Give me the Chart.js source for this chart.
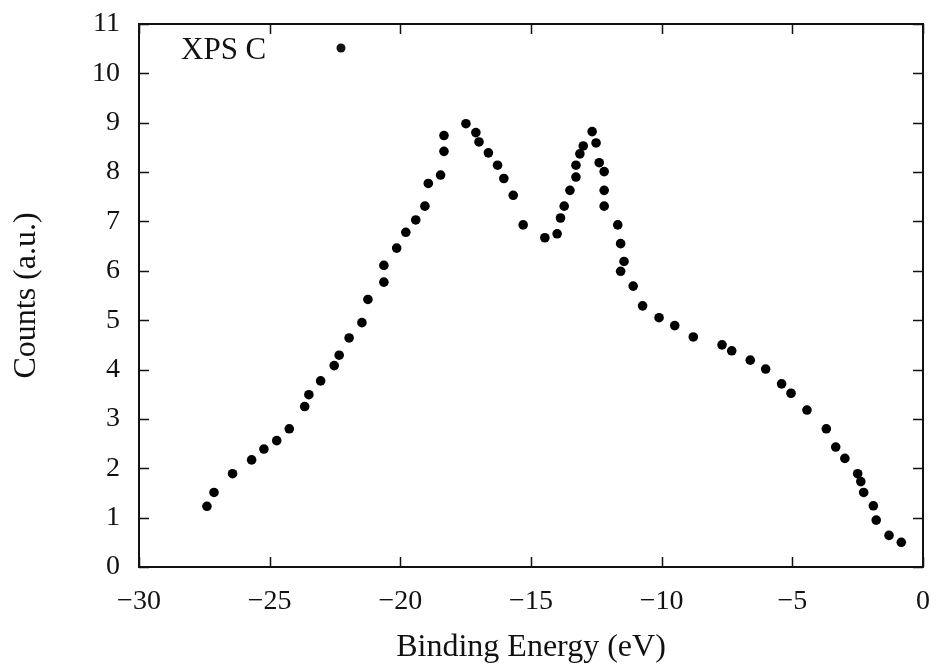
<!DOCTYPE html>
<html>
<head>
<meta charset="utf-8">
<script src="https://cdn.jsdelivr.net/npm/chart.js@4/dist/chart.umd.min.js"></script>
<style>
    html, body { margin: 0; padding: 0; background: #fff; }
    #wrap { width: 941px; height: 669px; }
</style>
</head>
<body>
<div id="wrap"><canvas id="xpsChart"></canvas></div>
<script>
// XPS C spectrum
const energy = [
    -27.40, -27.13, -26.42, -25.69, -25.22, -24.73, -24.25, -23.66, -23.50, -23.05,
    -22.53, -22.34, -21.96, -21.47, -21.24, -20.63, -20.63, -20.14, -19.79, -19.41,
    -19.06, -18.93, -18.46, -18.33, -18.33, -17.49, -17.11, -16.99, -16.63, -16.28,
    -16.04, -15.68, -15.30, -14.47, -14.00, -13.87, -13.73, -13.51, -13.28, -13.28,
    -13.13, -13.00, -12.66, -12.51, -12.39, -12.20, -12.20, -12.20, -11.68, -11.57,
    -11.44, -11.57, -11.09, -10.73, -10.10, -9.50, -8.79, -7.69, -7.32, -6.61,
    -6.02, -5.41, -5.05, -4.44, -3.70, -3.34, -2.99, -2.50, -2.38, -2.27,
    -1.90, -1.79, -1.30, -0.83
];
const counts = [
    1.23, 1.51, 1.89, 2.17, 2.39, 2.56, 2.80, 3.25, 3.49, 3.77,
    4.08, 4.29, 4.64, 4.95, 5.42, 5.77, 6.11, 6.46, 6.78, 7.03,
    7.31, 7.77, 7.94, 8.42, 8.74, 8.98, 8.80, 8.61, 8.39, 8.14,
    7.87, 7.53, 6.93, 6.67, 6.75, 7.07, 7.31, 7.63, 7.90, 8.14,
    8.37, 8.53, 8.82, 8.59, 8.19, 8.01, 7.63, 7.31, 6.93, 6.55,
    6.19, 5.99, 5.69, 5.29, 5.05, 4.89, 4.66, 4.50, 4.38, 4.19,
    4.01, 3.71, 3.52, 3.18, 2.80, 2.43, 2.20, 1.89, 1.73, 1.51,
    1.24, 0.95, 0.64, 0.50
];
const seriesLabel = 'XPS C';
const xRange = [-30, 0];
const xStep = 5;
const yRange = [0, 11];
const yStep = 1;

const FAMILY = '"Liberation Serif", "Times New Roman", serif';
const TICK_FONT = { family: FAMILY, size: 28 };
const TITLE_FONT = { family: FAMILY, size: 32 };
const KEY_SIZE = 31;
const INK = '#111';
const TICK_LEN = 10;

// gnuplot-like frame: box + inward ticks on all four sides + key inside the plot
const framePlugin = {
    id: 'frame',
    afterDatasetsDraw(chart) {
        const { ctx, chartArea: a, scales: { x, y } } = chart;
        ctx.save();
        ctx.strokeStyle = INK;
        ctx.lineWidth = 1.5;
        ctx.beginPath();
        x.ticks.forEach(t => {
            const px = Math.round(x.getPixelForValue(t.value)) + 0.5;
            ctx.moveTo(px, a.bottom); ctx.lineTo(px, a.bottom - TICK_LEN);
            ctx.moveTo(px, a.top); ctx.lineTo(px, a.top + TICK_LEN);
        });
        y.ticks.forEach(t => {
            const py = Math.round(y.getPixelForValue(t.value)) + 0.5;
            ctx.moveTo(a.left, py); ctx.lineTo(a.left + TICK_LEN, py);
            ctx.moveTo(a.right, py); ctx.lineTo(a.right - TICK_LEN, py);
        });
        ctx.stroke();
        ctx.lineWidth = 2;
        ctx.strokeRect(a.left, a.top, a.right - a.left, a.bottom - a.top);

        // key: label then point sample
        ctx.fillStyle = INK;
        ctx.font = KEY_SIZE + 'px ' + FAMILY;
        ctx.textBaseline = 'alphabetic';
        ctx.textAlign = 'left';
        ctx.fillText(seriesLabel, a.left + 42, a.top + 35);
        ctx.beginPath();
        ctx.arc(a.left + 202, a.top + 24, 4.5, 0, Math.PI * 2);
        ctx.fill();
        ctx.restore();
    }
};

const points = energy.map((e, i) => ({ x: e, y: counts[i] }));

new Chart(document.getElementById('xpsChart').getContext('2d'), {
    type: 'scatter',
    data: {
        datasets: [{
            label: seriesLabel,
            data: points,
            pointStyle: 'circle',
            pointRadius: 4.8,
            pointHoverRadius: 4.8,
            backgroundColor: '#000',
            borderColor: '#000',
            borderWidth: 0
        }]
    },
    options: {
        responsive: true,
        maintainAspectRatio: false,
        animation: false,
        layout: { padding: { top: 24, right: 18, left: 0, bottom: 0 } },
        plugins: {
            legend: { display: false },
            tooltip: { enabled: false }
        },
        scales: {
            x: {
                type: 'linear',
                min: xRange[0],
                max: xRange[1],
                // fixed box, no extra room for the end labels
                afterFit: s => { s.height = 102; s.paddingLeft = 0; s.paddingRight = 0; },
                border: { display: false },
                grid: { display: false, drawTicks: false },
                ticks: {
                    stepSize: xStep,
                    padding: 18,
                    color: INK,
                    font: TICK_FONT,
                    maxRotation: 0,
                    callback: v => (v < 0 ? '\u2212' + Math.abs(v) : String(v))
                },
                title: {
                    display: true,
                    text: 'Binding Energy (eV)',
                    color: INK,
                    font: TITLE_FONT,
                    padding: { top: 0, bottom: 2 }
                }
            },
            y: {
                type: 'linear',
                min: yRange[0],
                max: yRange[1],
                afterFit: s => { s.width = 139; s.paddingTop = 0; s.paddingBottom = 0; },
                border: { display: false },
                grid: { display: false, drawTicks: false },
                ticks: {
                    stepSize: yStep,
                    padding: 19,
                    color: INK,
                    font: TICK_FONT
                },
                title: {
                    display: true,
                    text: 'Counts (a.u.)',
                    color: INK,
                    font: TITLE_FONT,
                    padding: { top: 7, bottom: 0 }
                }
            }
        }
    },
    plugins: [framePlugin]
});
</script>
</body>
</html>
